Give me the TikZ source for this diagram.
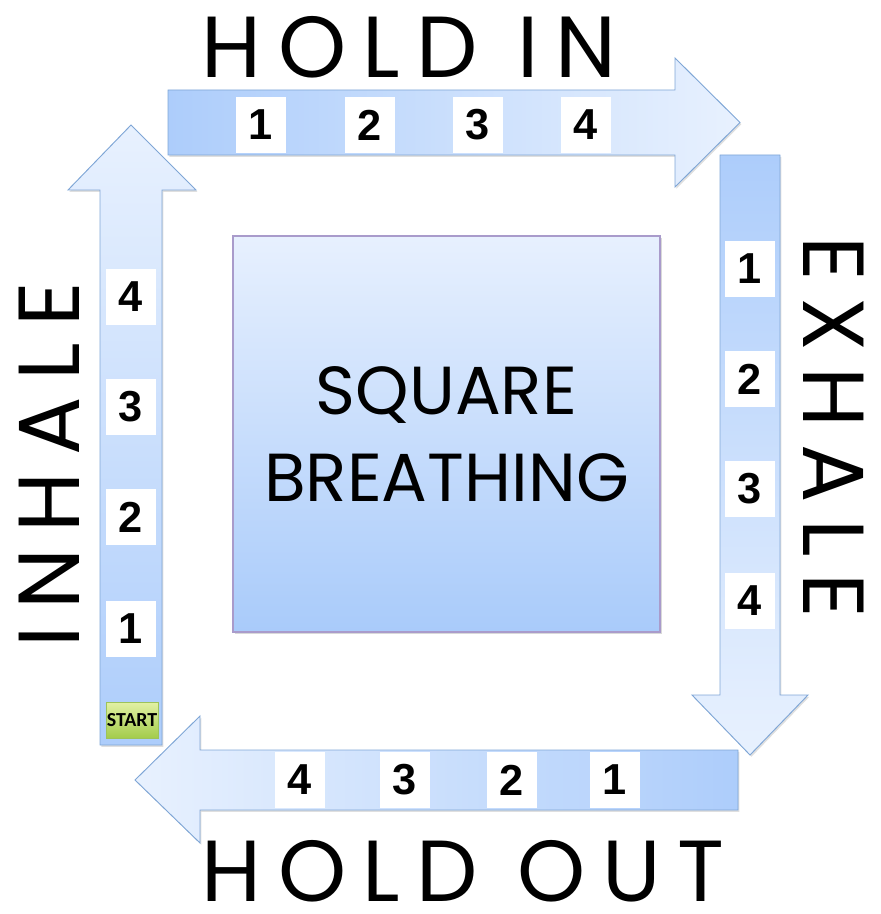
\documentclass[tikz,border=0pt]{standalone}
\usepackage{fontspec}
\setmainfont{Poppins}
\newfontfamily\numfont{Liberation Sans}
\newfontfamily\btnfont{Carlito}
\usetikzlibrary{shadows}
\definecolor{breathdark}{HTML}{ADCDFB}
\definecolor{breathlight}{HTML}{E8F1FE}
\definecolor{breathline}{HTML}{7FA6D6}
\definecolor{squaretop}{HTML}{E7F0FE}
\definecolor{squarebottom}{HTML}{A9CBFA}
\definecolor{squareline}{HTML}{A99BCB}
\definecolor{starttop}{HTML}{E2F1A4}
\definecolor{startbottom}{HTML}{A3CC4C}
\definecolor{startline}{HTML}{9DC35A}
\tikzset{
  arrowshape/.style={draw=breathline, line width=.8pt, line join=miter,
    drop shadow={shadow xshift=1.2pt, shadow yshift=-1.5pt, opacity=.25}},
  numbox/.style={fill=white, minimum width=15mm, minimum height=17mm,
    inner sep=0pt, font=\numfont\bfseries\fontsize{37}{37}\selectfont},
  startbox/.style={draw=startline, line width=.6pt, top color=starttop,
    bottom color=startbottom, minimum width=15.6mm, minimum height=10.8mm,
    inner sep=0pt, font=\btnfont\bfseries\fontsize{17}{17}\selectfont,
    drop shadow={shadow xshift=.8pt, shadow yshift=-1pt, opacity=.25}},
  handtext/.style={inner sep=0pt,
    font=\fontsize{74}{80}\selectfont\addfontfeatures{LetterSpace=19}},
  squaretext/.style={font=\fontsize{58}{74}\selectfont, align=center}
}
\begin{document}
\begin{tikzpicture}[x=.3mm,y=-.3mm]
  \useasboundingbox (0,0) rectangle (880,914);

  % the four arrows round the square
  \draw[arrowshape, left color=breathdark, right color=breathlight]
    (168,90) -- (675,90) -- (675,58) -- (740,122.5) -- (675,187) -- (675,155)
    -- (168,155) -- cycle;
  \draw[arrowshape, top color=breathdark, bottom color=breathlight]
    (720,155) -- (780,155) -- (780,695) -- (808,695) -- (750,755) -- (692,695)
    -- (720,695) -- cycle;
  \draw[arrowshape, right color=breathdark, left color=breathlight]
    (738,750) -- (738,810) -- (200,810) -- (200,843) -- (135,780) -- (200,716)
    -- (200,750) -- cycle;
  \draw[arrowshape, bottom color=breathdark, top color=breathlight]
    (100,745) -- (100,190) -- (68,190) -- (131,125) -- (196,190) -- (162,190)
    -- (162,745) -- cycle;

  % centre square
  \node[draw=squareline, line width=2.2pt, top color=squaretop,
    bottom color=squarebottom, minimum width=128.1mm, minimum height=118.8mm,
    drop shadow={shadow xshift=1.5pt, shadow yshift=-1.5pt, opacity=.3},
    squaretext] (square) at (446.5,434) {SQUARE\\BREATHING};

  % counting boxes
  \foreach \n/\x in {1/261,2/370,3/478,4/586}
    \node[numbox] (holdin\n) at (\x,125) {\n};
  \foreach \n/\y in {1/269,2/379,3/489,4/601}
    \node[numbox] (exhale\n) at (750,\y) {\n};
  \foreach \n/\x in {1/615,2/512,3/405,4/300}
    \node[numbox] (holdout\n) at (\x,780) {\n};
  \foreach \n/\y in {1/629,2/517,3/407,4/297}
    \node[numbox] (inhale\n) at (131,\y) {\n};
  \node[startbox] (start) at (132,720) {START};

  % side labels
  \node[handtext] (holdinlabel) at (409,47) {HOLD IN};
  \node[handtext] (exhalelabel) at (834,427) [rotate=-90] {EXHALE};
  \node[handtext] (holdoutlabel) at (463,871) {HOLD OUT};
  \node[handtext] (inhalelabel) at (49,465) [rotate=90] {INHALE};
\end{tikzpicture}
\end{document}
